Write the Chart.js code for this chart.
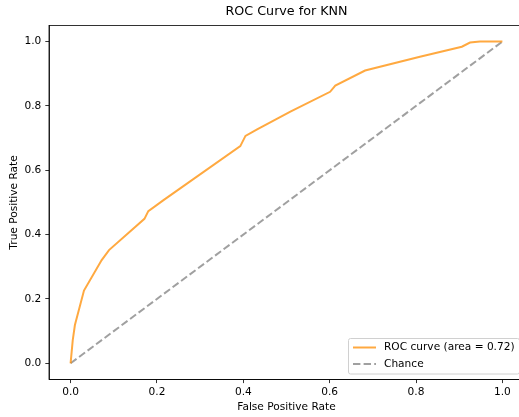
<!DOCTYPE html>
<html>
<head>
<meta charset="utf-8">
<script src="https://cdn.jsdelivr.net/npm/chart.js@4/dist/chart.umd.min.js"></script>
<style>
  html, body { margin: 0; padding: 0; background: #fff; overflow: hidden; }
  #wrap { width: 519px; height: 417px; overflow: hidden; position: relative; }
  #box { width: 540px; height: 417px; position: absolute; left: 0; top: 0; }
</style>
</head>
<body>
<div id="wrap"><div id="box"><canvas id="c"></canvas></div></div>
<script>
// Data
const rocFpr = [0, 0.005, 0.010, 0.031, 0.072, 0.089, 0.171, 0.180, 0.216, 0.393, 0.405, 0.432, 0.509, 0.601, 0.613, 0.682, 0.809, 0.906, 0.925, 0.948, 0.998, 1.0];
const rocTpr = [0, 0.072, 0.119, 0.226, 0.321, 0.352, 0.449, 0.473, 0.508, 0.675, 0.707, 0.727, 0.782, 0.844, 0.863, 0.910, 0.953, 0.984, 0.997, 1.0, 1.0, 1.0];
const chanceX = [0, 1];
const chanceY = [0, 1];
const tickValues = [0, 0.2, 0.4, 0.6, 0.8, 1.0];
const seriesLabels = ['ROC curve (area = 0.72)', 'Chance'];
const titleText = 'ROC Curve for KNN';
const xTitle = 'False Positive Rate';
const yTitle = 'True Positive Rate';

const FONT = 'DejaVu Sans';
const FS = 10.6;
const ORANGE = 'rgba(255,140,0,0.75)';
const GRAY = 'rgba(128,128,128,0.75)';

const rocPts = rocFpr.map((x, i) => ({x, y: rocTpr[i]}));
const chancePts = chanceX.map((x, i) => ({x, y: chanceY[i]}));

const framePlugin = {
  id: 'frame',
  afterDraw(chart) {
    const {ctx, chartArea: a} = chart;
    ctx.save();
    ctx.strokeStyle = '#000';
    ctx.lineWidth = 0.8;
    ctx.strokeRect(a.left, a.top, a.right - a.left, a.bottom - a.top);
    // title
    ctx.fillStyle = '#000';
    ctx.font = '12.7px "' + FONT + '"';
    ctx.textAlign = 'center';
    ctx.textBaseline = 'middle';
    ctx.fillText(titleText, (a.left + a.right) / 2, 12);
    // legend
    const lx = 348.5, ly = 338.5, lw = 171, lh = 35.5;
    ctx.fillStyle = 'rgba(255,255,255,0.8)';
    ctx.strokeStyle = '#d0d0d0';
    ctx.lineWidth = 1;
    ctx.beginPath();
    const r = 2;
    ctx.moveTo(lx + r, ly);
    ctx.lineTo(lx + lw - r, ly);
    ctx.quadraticCurveTo(lx + lw, ly, lx + lw, ly + r);
    ctx.lineTo(lx + lw, ly + lh - r);
    ctx.quadraticCurveTo(lx + lw, ly + lh, lx + lw - r, ly + lh);
    ctx.lineTo(lx + r, ly + lh);
    ctx.quadraticCurveTo(lx, ly + lh, lx, ly + lh - r);
    ctx.lineTo(lx, ly + r);
    ctx.quadraticCurveTo(lx, ly, lx + r, ly);
    ctx.closePath();
    ctx.fill();
    ctx.stroke();
    const colors = [ORANGE, GRAY];
    const dashes = [[], [7.4, 3.2]];
    const rows = [347.5, 364];
    for (let i = 0; i < 2; i++) {
      ctx.strokeStyle = colors[i];
      ctx.lineWidth = 2;
      ctx.setLineDash(dashes[i]);
      ctx.beginPath();
      ctx.moveTo(353, rows[i]);
      ctx.lineTo(376, rows[i]);
      ctx.stroke();
      ctx.setLineDash([]);
      ctx.fillStyle = '#000';
      ctx.font = FS + 'px "' + FONT + '"';
      ctx.textAlign = 'left';
      ctx.textBaseline = 'middle';
      ctx.fillText(seriesLabels[i], 384, rows[i]);
    }
    ctx.restore();
  }
};

new Chart(document.getElementById('c'), {
  type: 'scatter',
  data: {
    datasets: [
      { label: seriesLabels[0], data: rocPts, showLine: true, borderColor: ORANGE, backgroundColor: ORANGE,
        borderWidth: 2, pointRadius: 0, tension: 0, order: 1 },
      { label: seriesLabels[1], data: chancePts, showLine: true, borderColor: GRAY, backgroundColor: GRAY,
        borderWidth: 2, borderDash: [7.4, 3.2], pointRadius: 0, tension: 0, order: 2 }
    ]
  },
  options: {
    responsive: true,
    maintainAspectRatio: false,
    animation: false,
    events: [],
    layout: { padding: { left: 0, right: 16, top: 25.5, bottom: 0 } },
    plugins: { legend: { display: false }, title: { display: false }, tooltip: { enabled: false } },
    scales: {
      x: {
        type: 'linear', min: -0.05, max: 1.05,
        afterBuildTicks: s => { s.ticks = tickValues.map(v => ({value: v})); },
        afterFit: s => { s.height = 37.6; },
        grid: { drawOnChartArea: false, drawTicks: true, tickLength: 3.7, color: '#000', tickWidth: 0.8 },
        border: { display: true, color: '#000', width: 0.8 },
        ticks: { color: '#000', font: { family: FONT, size: FS }, padding: 2.5, maxRotation: 0,
                 callback: v => Number(v).toFixed(1) },
        title: { display: true, text: xTitle, color: '#000', font: { family: FONT, size: FS }, padding: { top: 0, bottom: 3.5 } }
      },
      y: {
        type: 'linear', min: -0.05, max: 1.05,
        afterBuildTicks: s => { s.ticks = tickValues.map(v => ({value: v})); },
        afterFit: s => { s.width = 49; },
        grid: { drawOnChartArea: false, drawTicks: true, tickLength: 3.7, color: '#000', tickWidth: 0.8 },
        border: { display: true, color: '#000', width: 0.8 },
        ticks: { color: '#000', font: { family: FONT, size: FS }, padding: 4,
                 callback: v => Number(v).toFixed(1) },
        title: { display: true, text: yTitle, color: '#000', font: { family: FONT, size: FS }, padding: { top: 7.5, bottom: 0 } }
      }
    }
  },
  plugins: [framePlugin]
});
</script>
</body>
</html>
